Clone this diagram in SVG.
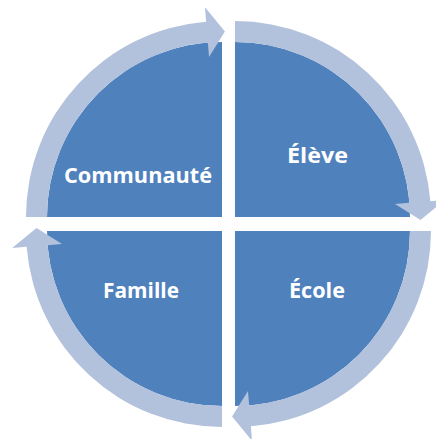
<svg xmlns="http://www.w3.org/2000/svg" xmlns:xlink="http://www.w3.org/1999/xlink" width="436" height="439" viewBox="0 0 436 439">
<style>
.sector{fill:#4F81BD;}
.arc{fill:#B2C1DC;}
.lbl{font-family:"Open Sans","Liberation Sans",sans-serif;font-weight:bold;font-size:22px;fill:#FFFFFF;text-anchor:middle;}
</style>
<defs>
<path id="arrowArc" d="M -196 0 A 196 196 0 0 1 -15.86 -195.36 L -17.03 -209.81 L 2.9 -185.48 L -12.98 -159.97 L -14.16 -174.43 A 175 175 0 0 0 -175 0 Z"/>
</defs>
<rect width="436" height="439" fill="#FFFFFF"/>
<g id="node-communaute">
<path class="sector" d="M 222 217 L 47 217 A 175 175 0 0 1 222 42 Z"/>
<text class="lbl" x="138" y="183" textLength="148" lengthAdjust="spacingAndGlyphs">Communauté</text>
</g>
<g id="node-eleve">
<path class="sector" d="M 235 217 L 235 42 A 175 175 0 0 1 410 217 Z"/>
<text class="lbl" x="317.5" y="163" textLength="61" lengthAdjust="spacingAndGlyphs">Élève</text>
</g>
<g id="node-ecole">
<path class="sector" d="M 235 231 L 410 231 A 175 175 0 0 1 235 406 Z"/>
<text class="lbl" x="317" y="298" textLength="56" lengthAdjust="spacingAndGlyphs">École</text>
</g>
<g id="node-famille">
<path class="sector" d="M 222 231 L 222 406 A 175 175 0 0 1 47 231 Z"/>
<text class="lbl" x="141" y="298" textLength="76" lengthAdjust="spacingAndGlyphs">Famille</text>
</g>
<g id="connectors">
<use class="arc" xlink:href="#arrowArc" transform="translate(222,217)"/>
<use class="arc" xlink:href="#arrowArc" transform="translate(235,217) rotate(90)"/>
<use class="arc" xlink:href="#arrowArc" transform="translate(235,231) rotate(180)"/>
<use class="arc" xlink:href="#arrowArc" transform="translate(222,231) rotate(270)"/>
</g>
</svg>
